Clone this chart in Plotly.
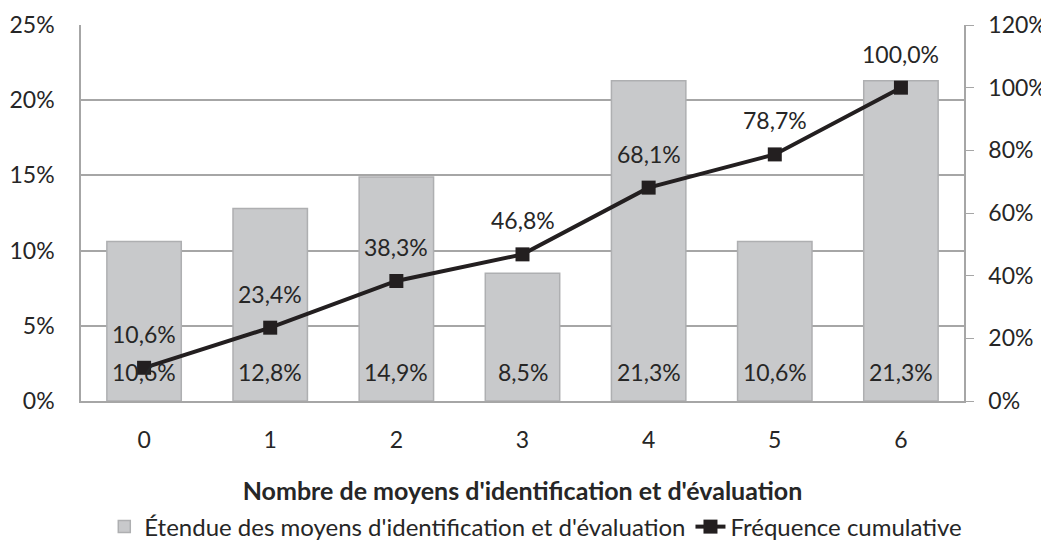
import plotly.graph_objects as go

categories = ["0", "1", "2", "3", "4", "5", "6"]
share = [10.6, 12.8, 14.9, 8.5, 21.3, 10.6, 21.3]
cumulative = [10.6, 23.4, 38.3, 46.8, 68.1, 78.7, 100.0]
left_ticks = [0, 5, 10, 15, 20, 25]
right_ticks = [0, 20, 40, 60, 80, 100, 120]

FONT = "Lato, 'Open Sans', sans-serif"
TXT = "#262626"
FS = 23

def fr(v):
    return f"{v:.1f}".replace(".", ",") + "%"

fig = go.Figure()
fig.add_trace(go.Bar(
    x=categories, y=share, name="Étendue des moyens d'identification et d'évaluation",
    marker=dict(color="#C8C9CB", line=dict(color="#AEAFB1", width=1.5)),
    width=0.59, yaxis="y",
))
fig.add_trace(go.Scatter(
    x=categories, y=cumulative, name="Fréquence cumulative", yaxis="y2",
    mode="lines+markers", line=dict(color="#231F20", width=4),
    marker=dict(symbol="square", size=14, color="#231F20"),
))
for c, v in zip(categories, share):
    fig.add_annotation(x=c, y=0, yref="y", text=fr(v), showarrow=False,
                       yanchor="middle", yshift=29, font=dict(size=FS, color=TXT, family=FONT))
for c, v in zip(categories, cumulative):
    fig.add_annotation(x=c, y=v, yref="y2", text=fr(v), showarrow=False,
                       yanchor="middle", yshift=34, font=dict(size=FS, color=TXT, family=FONT))

fig.update_layout(
    width=1041, height=538,
    margin=dict(l=73, r=85, t=17, b=145, autoexpand=False),
    plot_bgcolor="white", paper_bgcolor="white",
    font=dict(family=FONT, size=FS, color=TXT),
    xaxis=dict(title=dict(text="<b>Nombre de moyens d'identification et d'évaluation</b>",
                          font=dict(size=25), standoff=45),
               showline=True, linecolor="#A6A6A6", linewidth=1.5, ticks="", showgrid=False,
               ticklabelstandoff=18, automargin=False),
    yaxis=dict(range=[0, 25], tickvals=left_ticks, ticktext=[f"{t}%" for t in left_ticks],
               showgrid=True, gridcolor="#A6A6A6", gridwidth=1.5,
               showline=True, linecolor="#A6A6A6", linewidth=1.5, ticks="", ticklen=0,
               zeroline=False, ticklabelstandoff=20, automargin=False),
    yaxis2=dict(range=[0, 120], tickvals=right_ticks, ticktext=[f"{t}%" for t in right_ticks],
                overlaying="y", side="right", showgrid=False,
                showline=True, linecolor="#A6A6A6", linewidth=1.5,
                ticks="outside", ticklen=8, tickcolor="#A6A6A6", zeroline=False,
                ticklabelstandoff=10, automargin=False),
    legend=dict(orientation="h", xref="container", x=0.507, xanchor="center",
                yref="container", y=0.0353, yanchor="middle",
                font=dict(size=24), itemwidth=30, tracegroupgap=0),
    showlegend=True,
)
fig.write_html("out.html")
